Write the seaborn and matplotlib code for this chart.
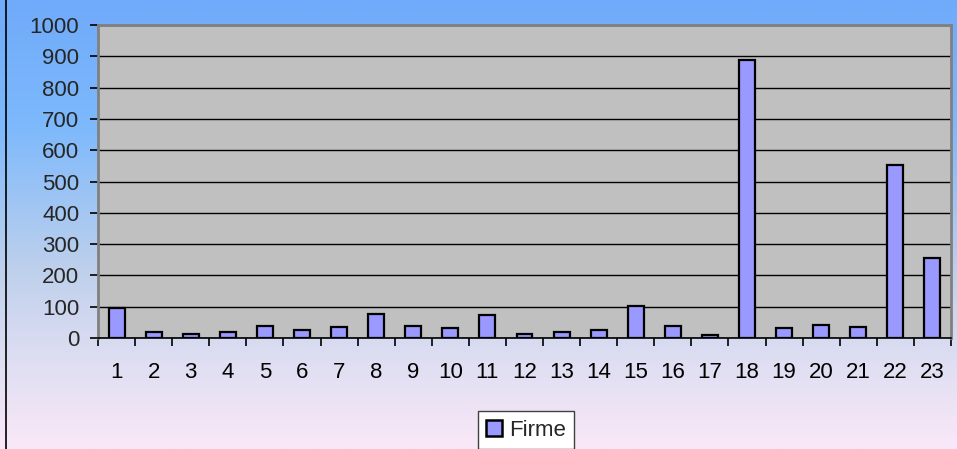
import numpy as np
import pandas as pd
import matplotlib
matplotlib.use("Agg")
import matplotlib.pyplot as plt
import seaborn as sns
from matplotlib.colors import LinearSegmentedColormap
from matplotlib.patches import Patch

categories = [str(i) for i in range(1, 24)]
firme = [97, 20, 13, 20, 37, 24, 35, 78, 38, 32, 75, 12, 19, 24, 101, 37, 9, 888, 33, 40, 35, 553, 257]
y_ticks = [0, 100, 200, 300, 400, 500, 600, 700, 800, 900, 1000]
series_name = "Firme"

df = pd.DataFrame({"cat": categories, "val": firme})

sns.set_theme(style="white")
plt.rcParams['font.family'] = ['Liberation Sans', 'DejaVu Sans']

W, H = 957, 449
fig = plt.figure(figsize=(W / 100, H / 100), dpi=100)

# gradient background
bg = fig.add_axes([0, 0, 1, 1], zorder=0)
cmap = LinearSegmentedColormap.from_list(
    "bg", [(0.0, (112/255, 170/255, 250/255)),
           (0.28, (125/255, 185/255, 252/255)),
           (0.6, (190/255, 208/255, 236/255)),
           (0.8, (222/255, 222/255, 242/255)),
           (1.0, (250/255, 232/255, 248/255))])
grad = np.linspace(0, 1, 256).reshape(-1, 1)
bg.imshow(grad, aspect="auto", cmap=cmap, extent=[0, 1, 0, 1], origin="upper")
bg.plot([5.5/W, 5.5/W], [0, 1], color="black", lw=1.2, transform=bg.transAxes)
bg.set_xlim(0, 1); bg.set_ylim(0, 1)
bg.axis("off")

left, right, top, bottom = 98, 951, 25, 338
ax = fig.add_axes([left / W, 1 - bottom / H, (right - left) / W, (bottom - top) / H], zorder=1)
ax.set_facecolor("#C0C0C0")

sns.barplot(data=df, x="cat", y="val", ax=ax, color="#9999FF", width=0.43,
            edgecolor="black", linewidth=1.6, saturation=1, zorder=3)

ax.set_xlim(-0.5, len(categories) - 0.5)
ax.set_ylim(0, 1000)
ax.set_yticks(y_ticks)
ax.set_yticklabels([str(t) for t in y_ticks], fontsize=16)
ax.yaxis.grid(True, color="black", lw=1.0, zorder=1)
ax.set_axisbelow(True)
ax.set_xticks(range(len(categories)))
ax.set_xticklabels(categories, fontsize=16)
ax.set_xticks(np.arange(-0.5, len(categories)), minor=True)
ax.tick_params(axis="x", which="major", length=0, pad=17, colors="black")
ax.tick_params(axis="x", which="minor", length=6, width=1.2, color="black", direction="out", bottom=True)
ax.tick_params(axis="y", length=6, width=1.2, color="black", direction="out", left=True, pad=7.5)
ax.set_xlabel(""); ax.set_ylabel("")
for s in ["top", "right"]:
    ax.spines[s].set_color("#808080"); ax.spines[s].set_linewidth(2)
ax.spines["left"].set_color("#808080"); ax.spines["left"].set_linewidth(2)
ax.spines["bottom"].set_color("black"); ax.spines["bottom"].set_linewidth(1.2)

handle = Patch(facecolor="#9999FF", edgecolor="black", linewidth=1.8, label=series_name)
leg = fig.legend(handles=[handle], loc="center", bbox_to_anchor=(526 / W, 1 - 430 / H),
                 fontsize=16, frameon=True, fancybox=False, handlelength=0.7, handleheight=0.7,
                 handletextpad=0.3, borderpad=0.4, borderaxespad=0)
leg.get_frame().set_edgecolor("#404040")
leg.get_frame().set_facecolor("white")
leg.get_frame().set_alpha(1)
leg.get_frame().set_linewidth(1)

fig.savefig("out.png", dpi=100)
